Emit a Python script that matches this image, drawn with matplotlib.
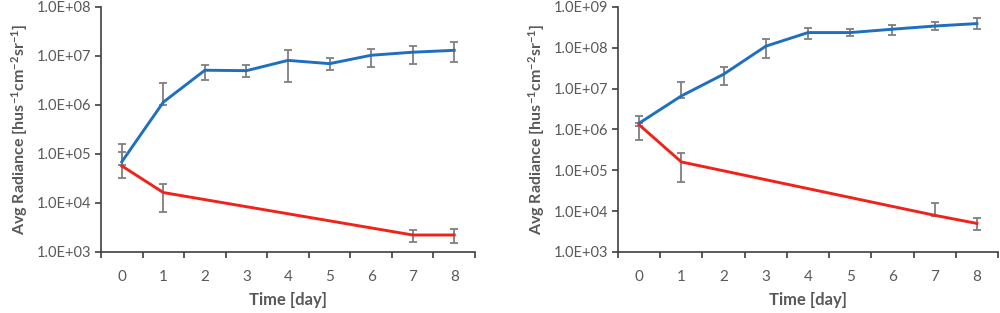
import matplotlib
matplotlib.use("Agg")
import matplotlib.pyplot as plt
from matplotlib.ticker import FuncFormatter, NullLocator, FixedLocator
import numpy as np

plt.rcParams['font.family'] = ['Lato', 'DejaVu Sans']
plt.rcParams['mathtext.fontset'] = 'custom'
plt.rcParams['mathtext.rm'] = 'Lato:bold'
plt.rcParams['mathtext.it'] = 'Lato:bold'
plt.rcParams['mathtext.bf'] = 'Lato:bold'

days = [0, 1, 2, 3, 4, 5, 6, 7, 8]

# left panel
left_blue = [6.9e4, 1.14e6, 5.1e6, 5.0e6, 8.1e6, 6.95e6, 1.03e7, 1.19e7, 1.3e7]
left_blue_lo = [6.0e4, 1.0e6, 3.3e6, 3.7e6, 3.0e6, 5.1e6, 5.8e6, 6.9e6, 7.5e6]
left_blue_hi = [1.6e5, 2.8e6, 6.6e6, 6.4e6, 1.34e7, 9.1e6, 1.4e7, 1.63e7, 1.9e7]

left_red_days = [0, 1, 7, 8]
left_red = [5.7e4, 1.63e4, 2.22e3, 2.22e3]
left_red_lo = [3.2e4, 6.5e3, 1.6e3, 1.5e3]
left_red_hi = [1.1e5, 2.49e4, 2.8e3, 2.9e3]

# right panel
right_blue = [1.42e6, 6.6e6, 2.24e7, 1.09e8, 2.35e8, 2.35e8, 2.84e8, 3.4e8, 3.9e8]
right_blue_lo = [5.4e5, 6.0e6, 1.2e7, 5.7e7, 1.6e8, 1.9e8, 2.1e8, 2.7e8, 2.9e8]
right_blue_hi = [2.1e6, 1.46e7, 3.4e7, 1.6e8, 3.1e8, 2.8e8, 3.7e8, 4.3e8, 5.2e8]

right_red_days = [0, 1, 7, 8]
right_red = [1.3e6, 1.6e5, 7.9e3, 5.0e3]
right_red_lo = [1.2e6, 5.2e4, 7.5e3, 3.4e3]
right_red_hi = [1.4e6, 2.66e5, 1.56e4, 6.7e3]

ylims = [(1e3, 1e8), (1e3, 1e9)]

BLUE = '#1f6fc0'
RED = '#f0231a'
GREY = '#7f7f7f'
TXT = '#595959'

fig = plt.figure(figsize=(10, 3.13), dpi=100)
ax1 = fig.add_axes([0.101, 0.195, 0.374, 0.783])
ax2 = fig.add_axes([0.618, 0.195, 0.380, 0.783])


def draw(ax, blue, blo, bhi, rdays, red, rlo, rhi, ylim):
    blue = np.array(blue)
    red = np.array(red)
    ax.plot(days, blue, color=BLUE, lw=2.1, zorder=3)
    ax.errorbar(days, blue, yerr=[blue - np.array(blo), np.array(bhi) - blue],
                fmt='none', ecolor=GREY, elinewidth=1.3, capsize=3, capthick=1.3, zorder=2)
    ax.plot(rdays, red, color=RED, lw=2.1, zorder=3)
    ax.errorbar(rdays, red, yerr=[red - np.array(rlo), np.array(rhi) - red],
                fmt='none', ecolor=GREY, elinewidth=1.3, capsize=3, capthick=1.3, zorder=2)

    ax.set_yscale('log')
    ax.set_ylim(*ylim)
    ax.set_xlim(-0.5, 8.5)
    ax.yaxis.set_minor_locator(NullLocator())
    ax.yaxis.set_major_formatter(FuncFormatter(lambda v, p: f"{v:.1E}"))
    ax.set_xticks(days)
    ax.xaxis.set_minor_locator(FixedLocator(np.arange(-0.5, 9, 1)))
    ax.tick_params(axis='x', which='major', length=0, pad=13, labelsize=11, labelcolor=TXT)
    ax.tick_params(axis='x', which='minor', length=4, width=1.2, color='#404040', direction='out')
    ax.tick_params(axis='y', which='major', length=4, width=1.2, color='#404040', direction='out',
                   labelsize=10.5, labelcolor=TXT, pad=3)
    for s in ['top', 'right']:
        ax.spines[s].set_visible(False)
    for s in ['left', 'bottom']:
        ax.spines[s].set_color('#404040')
        ax.spines[s].set_linewidth(1.2)
    ax.set_xlabel('Time [day]', fontsize=12, fontweight='bold', color=TXT, labelpad=6)
    ax.set_ylabel(r'Avg Radiance [hus$^{-1}$cm$^{-2}$sr$^{-1}$]', fontsize=11.5,
                  fontweight='bold', color=TXT, labelpad=5)


draw(ax1, left_blue, left_blue_lo, left_blue_hi, left_red_days, left_red,
     left_red_lo, left_red_hi, ylims[0])
draw(ax2, right_blue, right_blue_lo, right_blue_hi, right_red_days, right_red,
     right_red_lo, right_red_hi, ylims[1])

fig.savefig('out.png', dpi=100)
